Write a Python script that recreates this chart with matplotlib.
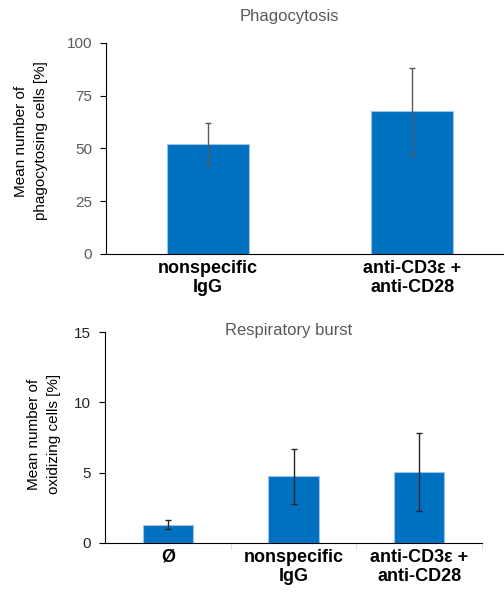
import matplotlib
matplotlib.use("Agg")
import matplotlib.pyplot as plt

plt.rcParams['font.family'] = ['Liberation Sans', 'DejaVu Sans']

# Phagocytosis data
phago_labels = ['nonspecific\nIgG', 'anti-CD3ε +\nanti-CD28']
phago_means = [52.0, 67.6]
phago_err = [10.0, 20.5]

# Respiratory burst data
burst_labels = ['Ø', 'nonspecific\nIgG', 'anti-CD3ε +\nanti-CD28']
burst_means = [1.3, 4.73, 5.05]
burst_err = [0.33, 1.95, 2.8]

bar_color = '#0070C0'
edge_color = '#9DC3E6'
gray = '#595959'

W, H = 504, 594
fig = plt.figure(figsize=(W / 100, H / 100), dpi=100)


def px_axes(left, top, right, bottom):
    return fig.add_axes([left / W, 1 - bottom / H, (right - left) / W, (bottom - top) / H])


def style_axes(ax, tick_color):
    for side in ['top', 'right']:
        ax.spines[side].set_visible(False)
    ax.spines['left'].set_color('black')
    ax.spines['bottom'].set_color('black')
    ax.tick_params(axis='y', labelsize=11, colors=tick_color, length=4, width=0.8, pad=6)
    ax.tick_params(axis='y', color='black')
    ax.tick_params(axis='x', length=0, labelsize=13, pad=4)
    for lbl in ax.get_xticklabels():
        lbl.set_fontweight('bold')


# top chart
ax1 = px_axes(106, 43, 504, 254)
x1 = range(len(phago_means))
ax1.bar(x1, phago_means, width=0.4, color=bar_color, edgecolor=edge_color, linewidth=0.8)
ax1.errorbar(x1, phago_means, yerr=phago_err, fmt='none', ecolor=gray,
             elinewidth=1, capsize=2.5, capthick=1)
ax1.set_xlim(-0.5, 1.45)
ax1.set_ylim(0, 100)
ax1.set_yticks([0, 25, 50, 75, 100])
ax1.set_xticks(list(x1))
ax1.set_xticklabels(phago_labels)
style_axes(ax1, gray)
fig.text(289 / W, 1 - 17 / H, 'Phagocytosis', ha='center', va='center',
         fontsize=12, color=gray)
fig.text(31 / W, 1 - 141 / H, 'Mean number of\nphagocytosing cells [%]', rotation=90,
         ha='center', va='center', fontsize=11, linespacing=1.55)

# bottom chart
ax2 = px_axes(105, 332, 482, 543)
x2 = range(len(burst_means))
ax2.bar(x2, burst_means, width=0.4, color=bar_color, edgecolor=edge_color, linewidth=0.8)
ax2.errorbar(x2, burst_means, yerr=burst_err, fmt='none', ecolor='#262626',
             elinewidth=1, capsize=2.5, capthick=1)
ax2.set_xlim(-0.5, 2.5)
ax2.set_ylim(0, 15)
ax2.set_yticks([0, 5, 10, 15])
ax2.set_xticks(list(x2))
ax2.set_xticklabels(burst_labels)
ax2.set_xticks([0.5, 1.5, 2.5], minor=True)
style_axes(ax2, '#262626')
ax2.tick_params(axis='x', which='minor', length=4, color='#D9D9D9')
fig.text(289 / W, 1 - 331 / H, 'Respiratory burst', ha='center', va='center',
         fontsize=12, color=gray)
fig.text(44 / W, 1 - 434 / H, 'Mean number of\noxidizing cells [%]', rotation=90,
         ha='center', va='center', fontsize=11, linespacing=1.55)

fig.savefig('out.png', dpi=100)
